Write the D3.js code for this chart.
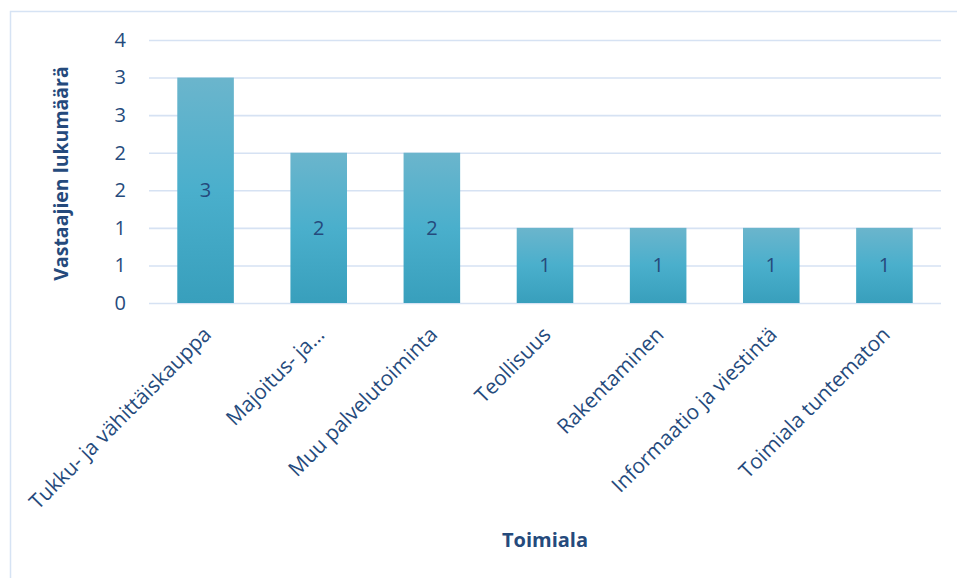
<!DOCTYPE html>
<html>
<head>
<meta charset="utf-8">
<script src="https://cdn.jsdelivr.net/npm/d3@7"></script>
<style>
  html, body { margin: 0; padding: 0; background: #fff; }
  svg { display: block; }
</style>
</head>
<body>
<svg id="chart" width="957" height="578"></svg>
<script>
// Respondents by industry
const categories = [
  "Tukku- ja vähittäiskauppa",
  "Majoitus- ja…",
  "Muu palvelutoiminta",
  "Teollisuus",
  "Rakentaminen",
  "Informaatio ja viestintä",
  "Toimiala tuntematon"
];
const values = [3, 2, 2, 1, 1, 1, 1];
const yTicks = [0, 0.5, 1, 1.5, 2, 2.5, 3, 3.5];
const yTitle = "Vastaajien lukumäärä";
const xTitle = "Toimiala";

const svg = d3.select("#chart");
const font = "'Open Sans', sans-serif";
const textColor = "#254a7c";

// outer frame
svg.append("rect")
  .attr("x", 10.5).attr("y", 11.5)
  .attr("width", 960).attr("height", 600)
  .attr("fill", "none")
  .attr("stroke", "#d6e3f4")
  .attr("stroke-width", 1.5);

const plot = { left: 149, right: 941, top: 40, bottom: 303 };

const x = d3.scaleBand()
  .domain(categories)
  .range([plot.left, plot.right])
  .paddingInner(0.5)
  .paddingOuter(0.25);

const y = d3.scaleLinear()
  .domain([0, 3.5])
  .range([plot.bottom, plot.top]);

// bar gradient
const defs = svg.append("defs");
const grad = defs.append("linearGradient")
  .attr("id", "barGrad")
  .attr("x1", 0).attr("y1", 0).attr("x2", 0).attr("y2", 1);
grad.append("stop").attr("offset", "0%").attr("stop-color", "#6bb5cc");
grad.append("stop").attr("offset", "50%").attr("stop-color", "#4aafcc");
grad.append("stop").attr("offset", "100%").attr("stop-color", "#389fbc");

// gridlines
const yAxis = d3.axisLeft(y)
  .tickValues(yTicks)
  .tickSize(-(plot.right - plot.left))
  .tickPadding(23)
  .tickFormat(d => String(Math.round(d)));

const gy = svg.append("g")
  .attr("transform", `translate(${plot.left},0)`)
  .call(yAxis);
gy.select(".domain").remove();
gy.selectAll(".tick line")
  .attr("stroke", "#d6e2f3")
  .attr("stroke-width", 1.6);
gy.selectAll(".tick text")
  .attr("fill", textColor)
  .style("font-family", font)
  .style("font-size", "20px");

// bars
svg.append("g").selectAll("rect")
  .data(values)
  .join("rect")
  .attr("x", (d, i) => x(categories[i]))
  .attr("y", d => y(d))
  .attr("width", x.bandwidth())
  .attr("height", d => y(0) - y(d))
  .attr("fill", "url(#barGrad)");

// value labels
svg.append("g").selectAll("text")
  .data(values)
  .join("text")
  .attr("x", (d, i) => x(categories[i]) + x.bandwidth() / 2)
  .attr("y", d => (y(d) + y(0)) / 2)
  .attr("dy", "0.35em")
  .attr("text-anchor", "middle")
  .attr("fill", textColor)
  .style("font-family", font)
  .style("font-size", "20px")
  .text(d => d);

// category labels
const xAxis = d3.axisBottom(x).tickSize(0).tickPadding(0);
const gx = svg.append("g")
  .attr("transform", `translate(0,${plot.bottom})`)
  .call(xAxis);
gx.select(".domain").remove();
gx.selectAll(".tick text")
  .attr("fill", textColor)
  .style("font-family", font)
  .style("font-size", "20.8px")
  .attr("text-anchor", "end")
  .attr("dy", null)
  .attr("y", null)
  .attr("transform", "translate(3,29) rotate(-45)")
  .attr("dominant-baseline", "middle");

// axis titles
svg.append("text")
  .attr("transform", `translate(68,${(plot.top + plot.bottom) / 2 + 2}) rotate(-90)`)
  .attr("text-anchor", "middle")
  .attr("fill", textColor)
  .style("font-family", font)
  .style("font-size", "19.5px")
  .style("font-weight", "bold")
  .text(yTitle);

svg.append("text")
  .attr("x", (plot.left + plot.right) / 2)
  .attr("y", 547)
  .attr("text-anchor", "middle")
  .attr("fill", textColor)
  .style("font-family", font)
  .style("font-size", "20px")
  .style("font-weight", "bold")
  .text(xTitle);
</script>
</body>
</html>
